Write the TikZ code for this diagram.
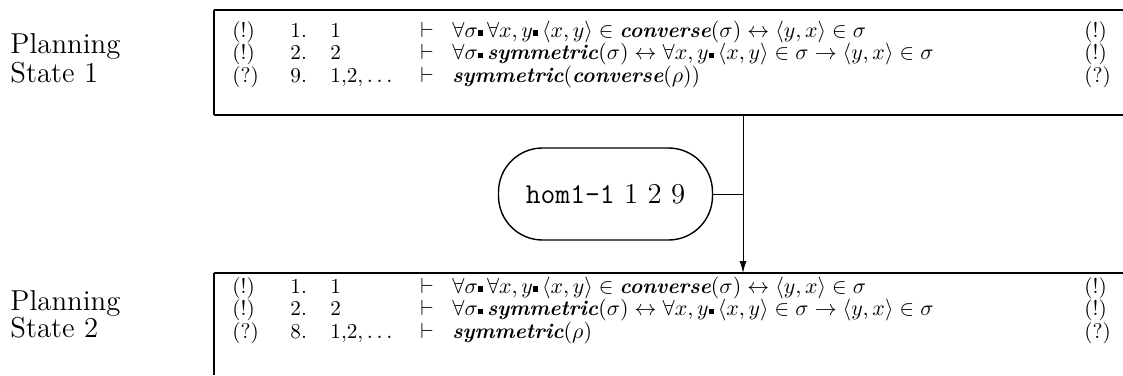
\documentclass[tikz,border=0pt]{standalone}
\usepackage{amsmath,amssymb}
\usepackage{fontspec}
\usetikzlibrary{arrows.meta}
\newcommand{\qd}{\mathpunct{\rule[0.12ex]{0.26em}{0.26em}}}
\newcommand{\fn}[1]{\textbf{\textit{#1}}}
\tikzset{
  cell/.style={anchor=base west, inner sep=0pt, font=\fontsize{10.6}{12.5}\selectfont},
  lab/.style={anchor=base west, inner sep=0pt, font=\fontsize{14.4}{16}\selectfont},
  heavy/.style={line width=1.1pt},
  light/.style={line width=0.6pt},
  pill/.style={draw, line width=0.7pt, rounded corners=22pt, minimum width=107pt, minimum height=46pt, inner sep=0pt, font=\fontsize{14.4}{16}\selectfont},
  conn/.style={line width=0.5pt},
}
\begin{document}
\begin{tikzpicture}[x=0.5pt,y=-0.5pt]
\useasboundingbox (0,0) rectangle (1123,375);
% labels
\node[lab] (p1a) at (10,53) {Planning};
\node[lab] (p1b) at (10,82) {State 1};
\node[lab] (p2a) at (10,310) {Planning};
\node[lab] (p2b) at (10,337) {State 2};
% top box
\draw[heavy] (214,10) -- (1123,10);
\draw[heavy] (214,115) -- (1123,115);
\draw[light] (214,10) -- (214,115);
% bottom box
\draw[heavy] (214,273) -- (1123,273);
\draw[light] (214,273) -- (214,375);
% rows state 1
\node[cell] (a1) at (232,37) {(!)};
\node[cell] (a2) at (290,37) {1.};
\node[cell] (a3) at (330,37) {1};
\node[cell] (a4) at (420,37) {$\vdash$};
\node[cell] (a5) at (452,37) {$\forall\sigma\qd\forall x,y\qd\langle x,y\rangle\in\fn{converse}(\sigma)\leftrightarrow\langle y,x\rangle\in\sigma$};
\node[cell] (a6) at (1084,37) {(!)};
\node[cell] (b1) at (232,59.5) {(!)};
\node[cell] (b2) at (290,59.5) {2.};
\node[cell] (b3) at (330,59.5) {2};
\node[cell] (b4) at (420,59.5) {$\vdash$};
\node[cell] (b5) at (452,59.5) {$\forall\sigma\qd\fn{symmetric}(\sigma)\leftrightarrow\forall x,y\qd\langle x,y\rangle\in\sigma\rightarrow\langle y,x\rangle\in\sigma$};
\node[cell] (b6) at (1084,59.5) {(!)};
\node[cell] (c1) at (232,82) {(?)};
\node[cell] (c2) at (290,82) {9.};
\node[cell] (c3) at (330,82) {1,2,\,$\ldots$};
\node[cell] (c4) at (420,82) {$\vdash$};
\node[cell] (c5) at (452,82) {$\fn{symmetric}(\fn{converse}(\rho))$};
\node[cell] (c6) at (1084,82) {(?)};
% rows state 2
\node[cell] (d1) at (232,293) {(!)};
\node[cell] (d2) at (290,293) {1.};
\node[cell] (d3) at (330,293) {1};
\node[cell] (d4) at (420,293) {$\vdash$};
\node[cell] (d5) at (452,293) {$\forall\sigma\qd\forall x,y\qd\langle x,y\rangle\in\fn{converse}(\sigma)\leftrightarrow\langle y,x\rangle\in\sigma$};
\node[cell] (d6) at (1084,293) {(!)};
\node[cell] (e1) at (232,315.5) {(!)};
\node[cell] (e2) at (290,315.5) {2.};
\node[cell] (e3) at (330,315.5) {2};
\node[cell] (e4) at (420,315.5) {$\vdash$};
\node[cell] (e5) at (452,315.5) {$\forall\sigma\qd\fn{symmetric}(\sigma)\leftrightarrow\forall x,y\qd\langle x,y\rangle\in\sigma\rightarrow\langle y,x\rangle\in\sigma$};
\node[cell] (e6) at (1084,315.5) {(!)};
\node[cell] (f1) at (232,338) {(?)};
\node[cell] (f2) at (290,338) {8.};
\node[cell] (f3) at (330,338) {1,2,\,$\ldots$};
\node[cell] (f4) at (420,338) {$\vdash$};
\node[cell] (f5) at (452,338) {$\fn{symmetric}(\rho)$};
\node[cell] (f6) at (1084,338) {(?)};
% pill
\node[pill] (op) at (605.5,194) {\texttt{hom1-1} 1 2 9};
\coordinate (ts) at (743,115);
\coordinate (bs) at (743,273);
\coordinate (jn) at (743,194);
\draw[conn,-{Latex[length=6pt,width=3.5pt]}] (ts) -- (bs);
\draw[conn] (op.east) -- (jn);
\end{tikzpicture}
\end{document}
